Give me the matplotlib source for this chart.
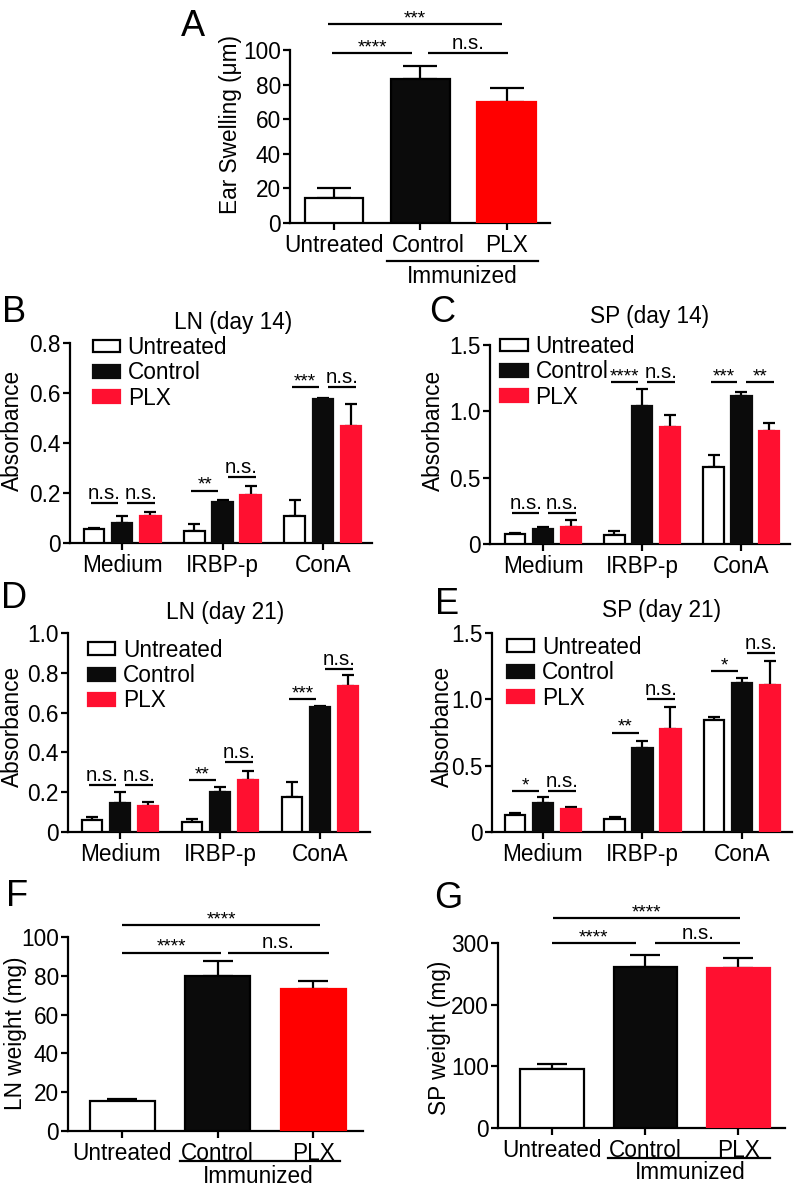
import matplotlib
matplotlib.use("Agg")
import matplotlib.pyplot as plt
from matplotlib.transforms import blended_transform_factory, ScaledTranslation
import numpy as np

plt.rcParams['font.family'] = ['Liberation Sans', 'DejaVu Sans']
plt.rcParams['font.size'] = 16.3

W, H = 796, 1192

# ---------------- data ----------------
groups3 = ['Untreated', 'Control', 'PLX']
stimuli = ['Medium', 'IRBP-p', 'ConA']

ear_mean = [14.5, 83, 70]
ear_err = [6, 7.5, 8]

ln_weight_mean = [15.5, 80, 73]
ln_weight_err = [1.0, 7.5, 4.5]

sp_weight_mean = [96, 261, 259]
sp_weight_err = [8, 19, 16]

# LN day 14
B_untreated = [0.057, 0.048, 0.11]
B_untreated_err = [0.002, 0.029, 0.064]
B_control = [0.08, 0.166, 0.577]
B_control_err = [0.03, 0.006, 0.004]
B_plx = [0.11, 0.194, 0.468]
B_plx_err = [0.015, 0.035, 0.088]

# SP day 14
C_untreated = [0.077, 0.07, 0.58]
C_untreated_err = [0.005, 0.025, 0.09]
C_control = [0.113, 1.04, 1.115]
C_control_err = [0.012, 0.13, 0.03]
C_plx = [0.13, 0.88, 0.85]
C_plx_err = [0.05, 0.09, 0.06]

# LN day 21
D_untreated = [0.06, 0.05, 0.175]
D_untreated_err = [0.015, 0.015, 0.075]
D_control = [0.145, 0.2, 0.63]
D_control_err = [0.055, 0.025, 0.005]
D_plx = [0.13, 0.26, 0.735]
D_plx_err = [0.02, 0.045, 0.055]

# SP day 21
E_untreated = [0.13, 0.1, 0.845]
E_untreated_err = [0.01, 0.015, 0.025]
E_control = [0.22, 0.635, 1.12]
E_control_err = [0.045, 0.05, 0.04]
E_plx = [0.17, 0.775, 1.11]
E_plx_err = [0.015, 0.165, 0.18]

# significance annotations: (bar i, bar j, y level, label)
A_sig = [(0, 1, 98, '****'), (1, 2, 98, 'n.s.'), (0, 2, 115, '***')]
F_sig = [(0, 1, 92, '****'), (1, 2, 92, 'n.s.'), (0, 2, 106, '****')]
G_sig = [(0, 1, 300, '****'), (1, 2, 300, 'n.s.'), (0, 2, 340, '****')]
# grouped: (group, bar i, bar j, y level, label)
B_sig = [(0, 0, 1, 0.16, 'n.s.'), (0, 1, 2, 0.16, 'n.s.'),
         (1, 0, 1, 0.21, '**'), (1, 1, 2, 0.265, 'n.s.'),
         (2, 0, 1, 0.624, '***'), (2, 1, 2, 0.624, 'n.s.')]
C_sig = [(0, 0, 1, 0.235, 'n.s.'), (0, 1, 2, 0.235, 'n.s.'),
         (1, 0, 1, 1.22, '****'), (1, 1, 2, 1.22, 'n.s.'),
         (2, 0, 1, 1.22, '***'), (2, 1, 2, 1.22, '**')]
D_sig = [(0, 0, 1, 0.235, 'n.s.'), (0, 1, 2, 0.235, 'n.s.'),
         (1, 0, 1, 0.26, '**'), (1, 1, 2, 0.35, 'n.s.'),
         (2, 0, 1, 0.67, '***'), (2, 1, 2, 0.82, 'n.s.')]
E_sig = [(0, 0, 1, 0.31, '*'), (0, 1, 2, 0.31, 'n.s.'),
         (1, 0, 1, 0.75, '**'), (1, 1, 2, 1.0, 'n.s.'),
         (2, 0, 1, 1.21, '*'), (2, 1, 2, 1.35, 'n.s.')]

# ---------------- style / layout ----------------
RED = '#FF1030'
RED_A = '#FF0000'
BLACK = '#0b0b0b'
LW = 1.6
FS = 16.3
FS_NS = 14.7
FS_STAR = 13.8

# horizontal extents of the significance lines (layout only)
A_ext = {(0, 1): (-0.02, 0.9), (1, 2): (1.09, 2.01), (0, 2): (-0.07, 1.95)}
F_ext = {(0, 1): (0.0, 1.03), (1, 2): (1.11, 2.16), (0, 2): (0.0, 2.07)}
G_ext = {(0, 1): (0.0, 0.9), (1, 2): (1.11, 2.02), (0, 2): (0.01, 2.02)}


def px_ax(l, t, r, b):
    return [l / W, 1 - b / H, (r - l) / W, (b - t) / H]


def style_axes(ax):
    for s in ['top', 'right']:
        ax.spines[s].set_visible(False)
    for s in ['left', 'bottom']:
        ax.spines[s].set_linewidth(LW)
    ax.tick_params(axis='both', direction='out', width=LW, length=5,
                   labelsize=FS, pad=1.5)
    ax.tick_params(axis='x', pad=3)


def sig_text(ax, x1, x2, y, label):
    ax.plot([x1, x2], [y, y], color='black', lw=LW, clip_on=False,
            solid_capstyle='butt')
    is_star = label.startswith('*')
    off = 0.5 if is_star else 3.0
    ax.annotate(label, xy=((x1 + x2) / 2, y), xytext=(0, off),
                textcoords='offset points', ha='center', va='baseline',
                fontsize=FS_STAR if is_star else FS_NS, annotation_clip=False)


def simple_panel(rect, means, errs, colors, ylim, yticks, ylabel, ylab_xy,
                 sigs, ext, xlim, cap, imm_line, imm_text, redc,
                 ctrl_shift=0):
    ax = fig.add_axes(rect)
    x = np.arange(len(groups3))
    edge = ['black', 'black', redc]
    ax.bar(x, means, width=0.68, color=colors, edgecolor=edge,
           linewidth=LW, zorder=3)
    ax.errorbar(x, means, yerr=[np.zeros(len(means)), errs], fmt='none',
                ecolor='black', elinewidth=LW, capsize=cap, capthick=LW,
                zorder=2)
    ax.set_xlim(*xlim)
    ax.set_ylim(*ylim)
    ax.set_yticks(yticks)
    ax.set_xticks(x)
    ax.set_xticklabels(groups3)
    style_axes(ax)
    if ctrl_shift:
        lab = ax.get_xticklabels()[1]
        lab.set_transform(lab.get_transform() +
                          ScaledTranslation(ctrl_shift / 100, 0,
                                            fig.dpi_scale_trans))
    ax.set_ylabel(ylabel, fontsize=FS)
    ax.yaxis.set_label_coords(*ylab_xy)
    for i, j, y, lab in sigs:
        x1, x2 = ext[(i, j)]
        sig_text(ax, x1, x2, y, lab)
    tr = blended_transform_factory(ax.transData, ax.transAxes)
    ax.plot(imm_line[:2], [imm_line[2]] * 2, color='black', lw=LW,
            transform=tr, clip_on=False)
    ax.text(imm_text[0], imm_text[1], 'Immunized', transform=tr,
            ha='center', va='center', fontsize=FS)
    return ax


def grouped_panel(rect, series, errs, ylim, yticks, ylab_xy, sigs, xlim,
                  leg_anchor):
    ax = fig.add_axes(rect)
    g = np.arange(len(stimuli))
    offs = [-0.28, 0.0, 0.28]
    colors = ['white', BLACK, RED]
    edges = ['black', BLACK, RED]
    handles = []
    for k in range(3):
        b = ax.bar(g + offs[k], series[k], width=0.205, color=colors[k],
                   edgecolor=edges[k], linewidth=LW, zorder=3,
                   label=groups3[k])
        handles.append(b)
        ax.errorbar(g + offs[k], series[k],
                    yerr=[np.zeros(3), errs[k]], fmt='none', ecolor='black',
                    elinewidth=LW, capsize=4, capthick=LW, zorder=2)
    ax.set_xlim(*xlim)
    ax.set_ylim(*ylim)
    ax.set_yticks(yticks)
    ax.set_yticklabels(['0' if t == 0 else f'{t:.1f}' for t in yticks])
    ax.set_xticks(g)
    ax.set_xticklabels(stimuli)
    style_axes(ax)
    ax.set_ylabel('Absorbance', fontsize=FS)
    ax.yaxis.set_label_coords(*ylab_xy)
    for grp, i, j, y, lab in sigs:
        if i == 0:
            x1, x2 = grp + offs[0] - 0.03, grp + offs[1] - 0.04
        else:
            x1, x2 = grp + offs[1] + 0.05, grp + offs[2] + 0.05
        sig_text(ax, x1, x2, y, lab)
    ax.legend(handles=handles, loc='upper left',
              bbox_to_anchor=leg_anchor, frameon=False, fontsize=FS,
              handlelength=1.2, handleheight=0.5, labelspacing=0.1,
              handletextpad=0.35, borderpad=0, borderaxespad=0)
    return ax


fig = plt.figure(figsize=(W / 100, H / 100), dpi=100)

# Panel A
simple_panel(px_ax(290, 50, 550, 223), ear_mean, ear_err,
             ['white', BLACK, RED_A], (0, 100), [0, 20, 40, 60, 80, 100],
             'Ear Swelling (\u03bcm)', (-0.185, 0.57), A_sig, A_ext,
             (-0.51, 2.5), 12, (0.61, 2.36, -0.22), (1.48, -0.31), RED_A,
             ctrl_shift=8)

# Panel F
simple_panel(px_ax(68, 937, 363, 1131), ln_weight_mean, ln_weight_err,
             ['white', BLACK, RED_A], (0, 100), [0, 20, 40, 60, 80, 100],
             'LN weight (mg)', (-0.139, 0.505), F_sig, F_ext,
             (-0.565, 2.52), 11, (0.61, 2.28, -0.155), (1.42, -0.237), RED_A)

# Panel G
simple_panel(px_ax(498, 943, 785, 1128), sp_weight_mean, sp_weight_err,
             ['white', BLACK, RED], (0, 300), [0, 100, 200, 300],
             'SP weight (mg)', (-0.165, 0.49), G_sig, G_ext,
             (-0.58, 2.5), 11, (0.6, 2.34, -0.162), (1.48, -0.243), RED)

# Panel B
grouped_panel(px_ax(70, 343, 372, 543),
              [B_untreated, B_control, B_plx],
              [B_untreated_err, B_control_err, B_plx_err],
              (0, 0.8), [0, 0.2, 0.4, 0.6, 0.8], (-0.152, 0.565), B_sig,
              (-0.52, 2.49), (0.075, 1.035))

# Panel C
grouped_panel(px_ax(490, 345, 790, 544),
              [C_untreated, C_control, C_plx],
              [C_untreated_err, C_control_err, C_plx_err],
              (0, 1.5), [0, 0.5, 1.0, 1.5], (-0.15, 0.57), C_sig,
              (-0.535, 2.49), (0.035, 1.05))

# Panel D
grouped_panel(px_ax(68, 633, 370, 832),
              [D_untreated, D_control, D_plx],
              [D_untreated_err, D_control_err, D_plx_err],
              (0, 1.0), [0, 0.2, 0.4, 0.6, 0.8, 1.0], (-0.146, 0.53), D_sig,
              (-0.52, 2.5), (0.066, 0.97))

# Panel E
grouped_panel(px_ax(492, 633, 792, 832),
              [E_untreated, E_control, E_plx],
              [E_untreated_err, E_control_err, E_plx_err],
              (0, 1.5), [0, 0.5, 1.0, 1.5], (-0.127, 0.53), E_sig,
              (-0.51, 2.5), (0.05, 0.985))

# titles
for txt, (x, y) in [('LN (day 14)', (233, 322)), ('SP (day 14)', (650, 317)),
                    ('LN (day 21)', (225, 612)), ('SP (day 21)', (662, 610))]:
    fig.text(x / W, 1 - y / H, txt, ha='center', va='center', fontsize=FS)

# panel letters
for txt, (x, y) in [('A', (193, 27)), ('B', (14, 312)), ('C', (442, 312)),
                    ('D', (14, 598)), ('E', (447, 605)), ('F', (17, 897)),
                    ('G', (448, 898))]:
    fig.text(x / W, 1 - y / H, txt, ha='center', va='center', fontsize=26)

fig.savefig('out.png', dpi=100)
